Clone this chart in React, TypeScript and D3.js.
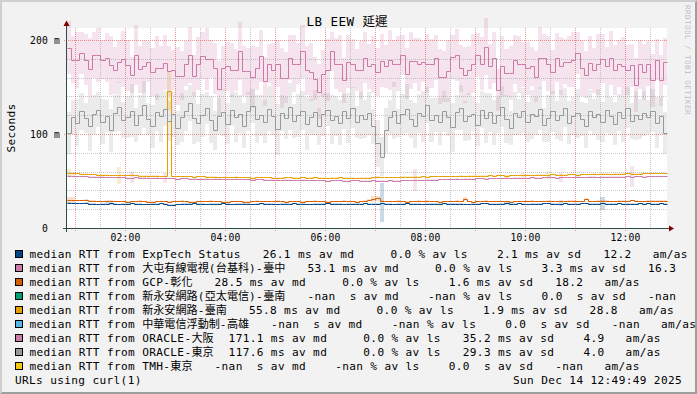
import React from 'react';
import * as d3 from 'd3';

const WIDTH = 697;
const HEIGHT = 394;

const title = 'LB EEW 延遲';
const yUnit = 'Seconds';
const footLeft = 'URLs using curl(1)';
const footRight = 'Sun Dec 14 12:49:49 2025';
const watermark = 'RRDTOOL / TOBI OETIKER';

// legend rows, in drawing order
const hosts = [
  'ExpTech Status',
  '大屯有線電視(台基科)-臺中',
  'GCP-彰化',
  '新永安網路(亞太電信)-臺南',
  '新永安網路-臺南',
  '中華電信浮動制-高雄',
  'ORACLE-大阪',
  'ORACLE-東京',
  'TMH-東京',
];
const avgMedian = [26.1, 53.1, 28.5, null, 55.8, null, 171.1, 117.6, null];
const avgLoss = [0, 0, 0, null, 0, null, 0, 0, null];
const avgSdev = [2.1, 3.3, 1.6, null, 1.9, null, 35.2, 29.3, null];
const amAs = [12.2, 16.3, 18.2, null, 28.8, null, 4.9, 4.0, null];

const nums = (s: string) => s.trim().split(/\s+/).map(Number);

// 5 minute medians in ms, 00:50 -> 12:50, 12 per row
const expTechMed = nums(`
27 27 26.5 26.5 27 26 26 25.5 26 26 26.5 26
25.5 26 26 26.5 26 26 25.5 25.5 26 26 26.5 26
25 25 25.5 26 26 26 26.5 26 26 25.5 26 26
26 26.5 26 25.5 26 26 26 26 25.5 26 26.5 26
26 26 25.5 26 26 26 26.5 26 26 25.5 25.5 26
26 26 26.5 26 26 26 25.5 26 26 26 26 26.5
26 26 26 27 26 26 25.5 26 26 26.5 26 26
26 25.5 26 26 26 26 26.5 26 26 26 26 25.5
25.5 26 26 26.5 26.5 26 26 26 26 26.5 26 26
26.5 26 25.5 26 26 26 26.5 26.5 26 26 26 26.5
26 26 26 26.5 26.5 26 26 26 26.5 26 26 26
26.5 26 26 26 26 26.5 26 26.5 26 26 26.5 26`);
const expTechSd = nums(`
0.5 0.5 0.5 0.5 0.5 0.5 0.5 0.5 0.5 2 2 0.5
0.5 0.5 0.5 0.5 0.5 0.5 0.5 0.5 0.5 0.5 0.5 0.5
0.5 0.5 0.5 0.5 0.5 0.5 0.5 0.5 0.5 0.5 0.5 0.5
0.5 0.5 0.5 0.5 0.5 0.5 0.5 0.5 0.5 0.5 0.5 0.5
0.5 0.5 0.5 0.5 0.5 0.5 0.5 0.5 0.5 0.5 0.5 0.5
0.5 0.5 0.5 0.5 0.5 0.5 0.5 0.5 0.5 0.5 0.5 0.5
0.5 0.5 0.5 21 0.5 0.5 0.5 0.5 0.5 0.5 0.5 0.5
0.5 0.5 0.5 0.5 0.5 0.5 0.5 0.5 0.5 0.5 0.5 0.5
0.5 0.5 0.5 0.5 0.5 0.5 0.5 0.5 0.5 2 2 0.5
0.5 0.5 0.5 0.5 0.5 0.5 0.5 0.5 0.5 0.5 2.5 0.5
0.5 0.5 0.5 0.5 0.5 0.5 0.5 0.5 7 0.5 0.5 0.5
0.5 0.5 0.5 0.5 0.5 0.5 0.5 0.5 0.5 0.5 0.5 0.5`);

const taichungMed = nums(`
55.5 55.5 55 55 55 54.5 54.5 54.5 54.5 54 54 54
54 54 53.5 53.5 54 53.5 53.5 53.5 53 53.5 53 53
53 53 52.5 53 53 52.5 52.5 52.5 52.5 52.5 52 52.5
52.5 52 52 52 52.5 52 52 52 51.5 52 52 51.5
51.5 51.5 51.5 51 51.5 51.5 51 51 51.5 51 51 51
51 51 50.5 51 51 51 50.5 50.5 51 51 50.5 50.5
50.5 51 50.5 50.5 50.5 51 50.5 50.5 51 51 51 51
51 51 51.5 51.5 51.5 52 52 52 52 52.5 52 52.5
52.5 52.5 53 53 52.5 53 53 53 53 53.5 53 53.5
53.5 53.5 53.5 54 53.5 53.5 54 54 54 53.5 54 54
54 54 54.5 54 54 54.5 54.5 54 54.5 54.5 54.5 54.5
54.5 54.5 55 54.5 55 55 54.5 55 55 55 55 55`);
const taichungSd = nums(`
0.5 0.5 0.5 0.5 0.5 0.5 0.5 0.5 0.5 0.5 0.5 0.5
0.5 0.5 0.5 6 0.5 0.5 0.5 0.5 0.5 0.5 0.5 5
0.5 0.5 0.5 0.5 0.5 0.5 0.5 0.5 0.5 0.5 0.5 0.5
0.5 0.5 0.5 0.5 0.5 0.5 0.5 0.5 0.5 0.5 0.5 0.5
0.5 0.5 0.5 0.5 0.5 0.5 0.5 0.5 0.5 0.5 0.5 0.5
0.5 0.5 0.5 0.5 0.5 0.5 0.5 0.5 0.5 0.5 0.5 0.5
0.5 0.5 0.5 0.5 0.5 0.5 0.5 0.5 0.5 0.5 0.5 12
0.5 0.5 0.5 0.5 0.5 0.5 0.5 0.5 0.5 0.5 0.5 0.5
0.5 0.5 0.5 0.5 0.5 0.5 0.5 0.5 0.5 0.5 0.5 0.5
0.5 0.5 0.5 0.5 0.5 0.5 0.5 0.5 0.5 0.5 5 0.5
0.5 0.5 0.5 0.5 0.5 0.5 0.5 0.5 0.5 0.5 0.5 0.5
0.5 0.5 0.5 11 0.5 0.5 0.5 0.5 0.5 0.5 0.5 0.5`);

const gcpMed = nums(`
30 30 29.5 29.5 30 29 29 28.5 28.5 29 29 28.5
28.5 28.5 28 28.5 28.5 29 28.5 28 28 28.5 28.5 28.5
28 28.5 28.5 29 28.5 28 28 28.5 28.5 28.5 29 28.5
28.5 28 28 28.5 28.5 28.5 28 28 28.5 29 28.5 28.5
28.5 28.5 29 28.5 28 28.5 28.5 28.5 28 28.5 28.5 29
28.5 28.5 28 28.5 28.5 28.5 29 28.5 28.5 28 28.5 29
30 31 31.5 29 28.5 28.5 28.5 29 28.5 28 28.5 28.5
29 28.5 29 28.5 28.5 28 28.5 28.5 28.5 29 28.5 31
28.5 28 28.5 28.5 29 28.5 28.5 28.5 28.5 28.5 28 28.5
28.5 28.5 28.5 29 28.5 28.5 28.5 29 28.5 28.5 29 28.5
29 29 28.5 28.5 31 28.5 28.5 29 29 29 28.5 28.5
29 29 28.5 29.5 29 28.5 28.5 29 29 29 29 29`);
const gcpSd = nums(`
3 2.5 0.5 0.5 0.5 0.5 0.5 0.5 0.5 0.5 0.5 0.5
0.5 0.5 0.5 0.5 0.5 0.5 0.5 0.5 0.5 0.5 0.5 0.5
0.5 0.5 0.5 0.5 0.5 0.5 0.5 0.5 0.5 0.5 0.5 0.5
0.5 0.5 0.5 0.5 0.5 0.5 0.5 0.5 0.5 0.5 0.5 0.5
0.5 0.5 0.5 0.5 0.5 0.5 0.5 0.5 0.5 0.5 0.5 0.5
0.5 0.5 0.5 0.5 0.5 0.5 0.5 0.5 0.5 0.5 0.5 0.5
0.5 3 3 0.5 0.5 0.5 0.5 0.5 0.5 0.5 0.5 0.5
0.5 0.5 0.5 0.5 0.5 0.5 0.5 0.5 0.5 0.5 0.5 2
0.5 0.5 0.5 0.5 0.5 0.5 0.5 0.5 0.5 0.5 0.5 0.5
0.5 0.5 0.5 0.5 0.5 0.5 0.5 0.5 0.5 0.5 0.5 0.5
0.5 0.5 0.5 0.5 0.5 0.5 0.5 0.5 0.5 0.5 0.5 0.5
0.5 0.5 0.5 0.5 0.5 0.5 0.5 0.5 0.5 0.5 0.5 0.5`);

const tainanMed = nums(`
58.5 58 58 57.5 57.5 57 57 56.5 56.5 56.5 56 56
56 56 56 56.5 56 55.5 55.5 55.5 55.5 55.5 55 55
146 55 55 55 55 55 54.5 55 55 54.5 54.5 54.5
54 54 54 54 54.5 54 54 54 53.5 54 54 54
54 53.5 53.5 53.5 54 54 53.5 53.5 54 53.5 53.5 54
53.5 53.5 53 53.5 53.5 54 53.5 53.5 53.5 53 53.5 53.5
53.5 54 54.5 54 54 54 54 54 54.5 54.5 54.5 54.5
54.5 55 54.5 55 55 55 55 55 55 55 55.5 55
55.5 55.5 55.5 55.5 55.5 56 55.5 56 56 55.5 56 56
56 56.5 56.5 56 56.5 56.5 56.5 56.5 57 56.5 56.5 56.5
57 57 56.5 57 57 57 57.5 57 57.5 57.5 57 57.5
57.5 57.5 58 57.5 57.5 57.5 58 58 58 58 58.5 58.5`);
const tainanSd = nums(`
4 2 0.5 0.5 0.5 0.5 0.5 0.5 0.5 0.5 0.5 0.5
9 0.5 0.5 0.5 0.5 0.5 0.5 0.5 0.5 0.5 0.5 0.5
20 0.5 0.5 0.5 0.5 0.5 0.5 0.5 0.5 0.5 0.5 0.5
0.5 0.5 0.5 0.5 0.5 0.5 0.5 0.5 0.5 0.5 0.5 0.5
0.5 0.5 0.5 0.5 0.5 0.5 0.5 0.5 0.5 0.5 0.5 0.5
0.5 0.5 0.5 0.5 0.5 0.5 0.5 0.5 0.5 0.5 0.5 0.5
0.5 0.5 0.5 0.5 0.5 0.5 0.5 0.5 0.5 0.5 0.5 0.5
0.5 0.5 0.5 0.5 0.5 0.5 0.5 0.5 0.5 0.5 0.5 0.5
0.5 0.5 0.5 0.5 0.5 0.5 0.5 0.5 0.5 0.5 0.5 0.5
0.5 2 0.5 0.5 0.5 0.5 0.5 4 0.5 0.5 0.5 0.5
0.5 0.5 0.5 0.5 0.5 0.5 0.5 0.5 0.5 0.5 0.5 0.5
0.5 0.5 0.5 0.5 0.5 0.5 0.5 0.5 0.5 0.5 0.5 0.5`);

const osakaMed = nums(`
192 179 179 186 179 169 184 184 179 181 173 168
177 180 173 163 184 169 172 177 166 170 170 176
167 168 162 162 175 184 162 175 183 180 180 170
148 170 172 168 168 188 167 167 161 170 183 156
175 168 175 160 160 181 175 175 188 168 166 159
145 164 168 188 175 175 157 177 175 168 168 181
172 174 166 178 172 179 175 175 184 164 178 178
174 177 175 175 181 161 161 167 182 184 170 163
168 175 184 175 193 172 181 147 172 165 165 179
174 174 170 172 161 181 181 175 166 181 172 177
177 179 186 170 163 176 168 174 180 172 181 168
175 172 168 173 152 174 166 175 157 179 157 177`);
const osakaSd = nums(`
28 25 30 22 27 33 24 29 21 26 31 25
23 30 27 19 32 25 28 22 26 34 24 29
27 21 31 26 24 30 22 28 25 33 20 27
30 24 26 29 22 31 27 25 33 23 28 26
21 29 25 32 27 24 30 22 28 26 31 23
29 25 33 21 27 30 24 28 26 22 31 27
24 30 26 28 23 32 25 29 21 27 30 24
28 22 31 26 24 29 27 33 23 28 25 30
26 31 23 28 30 24 27 22 32 25 29 26
30 24 28 21 27 33 25 29 23 26 31 24
27 29 22 30 25 28 24 32 26 21 29 27
25 31 27 23 29 26 30 24 28 22 27 25`);

const tokyoMed = nums(`
101 118 112 124 117 109 121 126 113 119 104 122
129 115 118 125 110 120 131 116 108 123 119 127
114 121 106 118 125 133 117 112 120 128 115 104
119 123 111 126 118 121 109 124 130 116 120 113
127 119 105 122 117 129 114 120 125 111 118 123
108 121 126 115 119 112 124 117 128 113 120 116
122 108 90 76 104 118 125 112 121 127 116 109
122 119 131 115 120 113 124 118 107 123 128 114
119 121 110 126 117 123 112 120 129 116 106 122
118 125 113 121 119 127 110 117 124 115 120 128
112 119 122 116 109 125 118 121 113 126 119 111
123 117 128 114 120 116 122 118 125 112 119 101`);
const tokyoSd = nums(`
22 18 25 20 16 27 21 19 24 17 23 20
26 19 22 28 18 21 25 17 23 20 27 19
21 24 18 26 22 19 28 20 23 17 25 21
19 25 22 17 27 20 24 21 18 26 22 23
24 20 27 19 22 25 18 23 21 28 19 24
20 23 18 26 21 24 19 27 22 17 25 20
23 19 25 21 24 18 30 15 22 26 20 24
21 27 19 23 18 25 22 20 26 19 24 21
25 18 23 20 27 21 24 19 22 26 18 23
19 24 21 26 20 23 18 25 22 20 27 21
23 20 26 18 24 22 19 27 21 25 20 23
20 25 22 19 26 21 24 18 23 27 20 22`);

// per host; null = no data (-nan)
const seriesMed = [expTechMed, taichungMed, gcpMed, null, tainanMed, null, osakaMed, tokyoMed, null];
const seriesSd = [expTechSd, taichungSd, gcpSd, null, tainanSd, null, osakaSd, tokyoSd, null];

const COLORS = ['#004586', '#cc79a7', '#d55e00', '#009e73', '#e69f00', '#56b4e9', '#cc79a7', '#999999', '#f5c710'];
const FONT = "'DejaVu Sans Mono', 'Noto Sans CJK TC', monospace";

const T0 = Date.UTC(2025, 11, 14, 0, 50);
const STEP = 5 * 60 * 1000;
const N = 144;
const PLOT = { left: 67, right: 667, top: 28, bottom: 228 };

const isWide = (c: string) => (c.codePointAt(0) || 0) >= 0x2e80;
const textW = (s: string, adv: number, wide: number) =>
  d3.sum(Array.from(s), c => (isWide(c) ? wide : adv));

// monospace text with rrdtool-like fixed advances; chars past maxX are dropped
function Mono({ text, x, y, adv, size, anchor = 'start', maxX = Infinity, ...rest }: any) {
  const chars = Array.from(text as string);
  const total = textW(text, adv, size);
  let cx = anchor === 'end' ? x - total : anchor === 'middle' ? x - total / 2 : x;
  const xs: number[] = [];
  const kept: string[] = [];
  for (const c of chars) {
    const w = isWide(c) ? size : adv;
    if (cx + w > maxX) break;
    xs.push(cx);
    kept.push(c);
    cx += w;
  }
  const str = kept.join('').replace(/\s+$/, '');
  return (
    <text x={xs.slice(0, Array.from(str).length).map(v => v.toFixed(2)).join(' ')} y={y} fontSize={size} style={{ whiteSpace: 'pre' }} {...rest}>
      {str}
    </text>
  );
}

export default function App() {
  const x = d3.scaleUtc().domain([T0, T0 + N * STEP]).range([PLOT.left, PLOT.right]);
  const y = d3.scaleLinear().domain([0, (PLOT.bottom - PLOT.top) / 0.94]).range([PLOT.bottom, PLOT.top]);
  const px = (t: number) => Math.round(x(t)) + 0.5;
  const py = (v: number) => Math.round(y(v)) + 0.5;

  const series = seriesMed.map((med, i) => {
    if (!med) return null;
    const sd = seriesSd[i]!;
    const pts = med.map((v, k) => ({ t: T0 + k * STEP, v, sd: sd[k] }));
    pts.push({ ...pts[pts.length - 1], t: T0 + N * STEP });
    return { i, pts };
  }).filter(Boolean) as { i: number; pts: { t: number; v: number; sd: number }[] }[];

  const line = d3.line<any>().x(d => px(d.t)).y(d => py(d.v)).curve(d3.curveStepAfter);
  const band = d3.area<any>()
    .x(d => Math.round(x(d.t)))
    .y0(d => y(Math.max(0, d.v - d.sd)))
    .y1(d => y(d.v + d.sd))
    .curve(d3.curveStepAfter);

  const end = T0 + N * STEP;
  const halfHours = d3.utcMinute.every(30)!.range(T0, end).filter(t => t.getUTCMinutes() !== 0);
  const hours = d3.utcHour.every(1)!.range(T0, end);
  const labelHours = d3.utcHour.every(2)!.range(T0, end);
  const minorY = d3.range(20, 201, 20).filter(v => v % 100 !== 0);
  const majorY = [100, 200];
  const yLabels = [0, 100, 200];
  const fmtY = (v: number) => d3.format('3.0f')(v) + ' ' + (v === 0 ? ' ' : 'm');

  // legend layout
  const LEG = { size: 11.1, adv: 7.04, x: 29.5, y0: 257.7, dy: 14, gap: 15 };
  const f = d3.format('5.1f');
  const rows = hosts.map((h, i) => {
    const med = avgMedian[i], loss = avgLoss[i], sd = avgSdev[i], am = amAs[i];
    const parts = [
      `median RTT from ${h}`,
      `${med == null ? ' -nan' : f(med)} ${med == null ? ' ' : 'm'}s av md `,
      `${loss == null ? ' -nan' : f(loss)} % av ls`,
      `${f(sd == null ? 0 : sd)} ${sd == null ? ' ' : 'm'}s av sd`,
      `${am == null ? ' -nan' : f(am)}   am/as`,
    ];
    let cx = LEG.x;
    return parts.map(p => {
      const seg = { text: p, x: cx };
      cx += textW(p, LEG.adv, LEG.size) + LEG.gap;
      return seg;
    });
  });

  return (
    <svg width={WIDTH} height={HEIGHT} style={{ position: 'absolute', left: 0, top: 0 }} fontFamily={FONT}>
      <rect width={WIDTH} height={HEIGHT} fill="#f2f2f2" />
      <polygon points={`0,0 ${WIDTH},0 ${WIDTH - 2},2 2,2 2,${HEIGHT - 2} 0,${HEIGHT}`} fill="#cfcfcf" />
      <polygon points={`${WIDTH},0 ${WIDTH},${HEIGHT} 0,${HEIGHT} 2,${HEIGHT - 2} ${WIDTH - 2},${HEIGHT - 2} ${WIDTH - 2},2`} fill="#9e9e9e" />

      <rect x={PLOT.left} y={PLOT.top} width={PLOT.right - PLOT.left} height={PLOT.bottom - PLOT.top} fill="#fff" />

      {/* smoke bands */}
      <g shapeRendering="crispEdges">
        {series.map(s => (
          <path key={s.i} d={band(s.pts)!} fill={COLORS[s.i]} fillOpacity={0.2} />
        ))}
      </g>

      {/* grid */}
      <g strokeWidth={1} strokeDasharray="1 1" shapeRendering="crispEdges">
        {minorY.map(v => (
          <line key={'my' + v} x1={PLOT.left} x2={PLOT.right} y1={py(v)} y2={py(v)} stroke="#8f8f8f" strokeOpacity={0.5} />
        ))}
        {halfHours.map(t => (
          <line key={'mx' + +t} x1={px(+t)} x2={px(+t)} y1={PLOT.top} y2={PLOT.bottom} stroke="#8f8f8f" strokeOpacity={0.5} />
        ))}
        {majorY.map(v => (
          <line key={'My' + v} x1={PLOT.left - 3} x2={PLOT.right} y1={py(v)} y2={py(v)} stroke="#de5050" strokeOpacity={0.6} />
        ))}
        {hours.map(t => (
          <line key={'Mx' + +t} x1={px(+t)} x2={px(+t)} y1={PLOT.top} y2={PLOT.bottom + 3} stroke="#de5050" strokeOpacity={0.6} />
        ))}
      </g>

      {/* median lines */}
      <g fill="none" strokeWidth={1}>
        {series.map(s => (
          <path key={s.i} d={line(s.pts)!} stroke={COLORS[s.i]} />
        ))}
      </g>

      {/* axes */}
      <g stroke="#2c4d43" shapeRendering="crispEdges">
        <line x1={63} x2={670} y1={PLOT.bottom + 0.5} y2={PLOT.bottom + 0.5} />
        <line x1={PLOT.left - 0.5} x2={PLOT.left - 0.5} y1={232} y2={24} />
      </g>
      <polygon points={`674,${PLOT.bottom + 0.5} 669,${PLOT.bottom - 2.5} 669,${PLOT.bottom + 3.5}`} fill="#7f0000" />
      <polygon points={`${PLOT.left - 0.5},20.5 ${PLOT.left - 3.5},26 ${PLOT.left + 2.5},26`} fill="#7f0000" />

      {/* axis labels */}
      {yLabels.map(v => (
        <Mono key={v} text={fmtY(v)} x={60} y={y(v) + 3.5} adv={6} size={9.7} anchor="end" fill="#000" />
      ))}
      {labelHours.map(t => (
        <Mono key={+t} text={d3.utcFormat('%H:%M')(t)} x={px(+t)} y={240.7} adv={6} size={9.7} anchor="middle" fill="#000" />
      ))}

      <Mono text={title} x={347} y={26} adv={8} size={12.5} anchor="middle" fill="#000" />
      <g transform={`translate(15,${(PLOT.top + PLOT.bottom) / 2}) rotate(-90)`}>
        <Mono text={yUnit} x={0} y={0} adv={7} size={11.1} anchor="middle" fill="#000" />
      </g>
      <g transform="translate(684.5,5) rotate(90)">
        <Mono text={watermark} x={0} y={0} adv={5} size={7.7} fill="#000" fillOpacity={0.25} />
      </g>

      {/* legend */}
      {rows.map((segs, k) => (
        <g key={k}>
          <rect x={15.5} y={LEG.y0 - 7.2 + k * LEG.dy} width={7} height={7} fill={COLORS[k]} stroke="#000" strokeWidth={1} shapeRendering="crispEdges" />
          {segs.map((s, j) => (
            <Mono key={j} text={s.text} x={s.x} y={LEG.y0 + k * LEG.dy} adv={LEG.adv} size={LEG.size} maxX={WIDTH + 1} fill="#000" />
          ))}
        </g>
      ))}
      <Mono text={footLeft} x={15} y={LEG.y0 + hosts.length * LEG.dy} adv={LEG.adv} size={LEG.size} fill="#000" />
      <Mono text={footRight} x={682} y={LEG.y0 + hosts.length * LEG.dy} adv={LEG.adv} size={LEG.size} anchor="end" fill="#000" />
    </svg>
  );
}
